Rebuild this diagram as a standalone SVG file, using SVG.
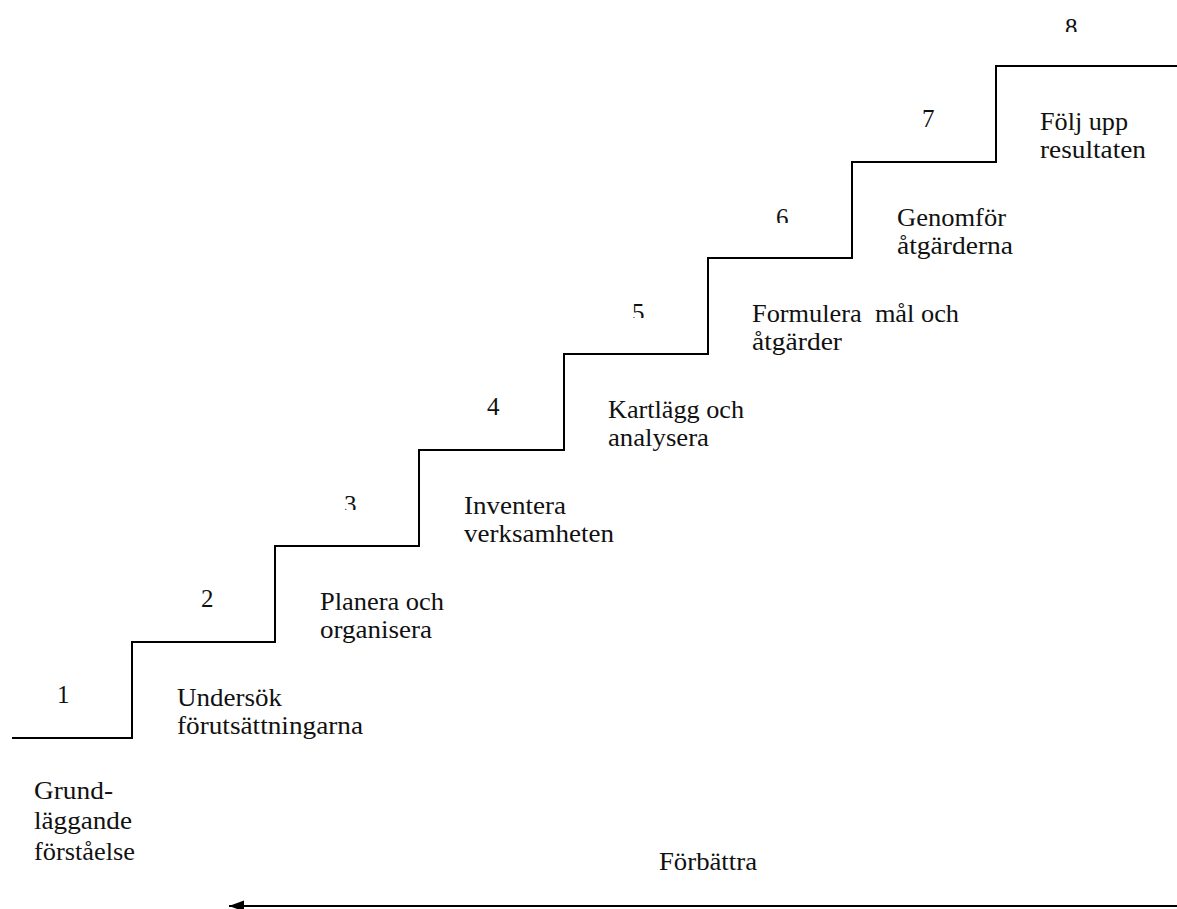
<svg xmlns="http://www.w3.org/2000/svg" width="1177" height="909" viewBox="0 0 1177 909">
<style>
text{font-family:"Liberation Serif","Times New Roman",serif;font-size:25px;fill:#111}
.stairs{fill:none;stroke:#000;stroke-width:2}
.conn{stroke:#000;stroke-width:2;fill:none}
</style>
<defs>
<marker id="ah" markerUnits="userSpaceOnUse" markerWidth="16" markerHeight="12" refX="15" refY="6" orient="auto" viewBox="0 0 16 12">
<path d="M0,0.5 L15,6 L0,11.5 Z" fill="#000"/>
</marker>
<clipPath id="c3"><rect x="330" y="480" width="40" height="30"/></clipPath>
<clipPath id="c5"><rect x="618" y="290" width="40" height="28"/></clipPath>
<clipPath id="c6"><rect x="762" y="195" width="40" height="28"/></clipPath>
<clipPath id="c8"><rect x="1050" y="0" width="40" height="32"/></clipPath>
</defs>
<g id="stairs">
<polyline class="stairs" points="12,738 132,738 132,642 275,642 275,546 419,546 419,450 564,450 564,354 708,354 708,258 852,258 852,162 996,162 996,66 1177,66"/>
</g>
<g id="step-1">
<text x="57" y="703">1</text>
<text x="177" y="706" textLength="105" lengthAdjust="spacingAndGlyphs">Undersök</text>
<text x="177" y="734" textLength="186" lengthAdjust="spacingAndGlyphs">förutsättningarna</text>
</g>
<g id="step-2">
<text x="201" y="607">2</text>
<text x="320" y="610" textLength="124" lengthAdjust="spacingAndGlyphs">Planera och</text>
<text x="320" y="638" textLength="112" lengthAdjust="spacingAndGlyphs">organisera</text>
</g>
<g id="step-3">
<text x="344" y="513" clip-path="url(#c3)">3</text>
<text x="464" y="514" textLength="102" lengthAdjust="spacingAndGlyphs">Inventera</text>
<text x="464" y="542" textLength="150" lengthAdjust="spacingAndGlyphs">verksamheten</text>
</g>
<g id="step-4">
<text x="487" y="415">4</text>
<text x="608" y="418" textLength="136" lengthAdjust="spacingAndGlyphs">Kartlägg och</text>
<text x="608" y="446" textLength="101" lengthAdjust="spacingAndGlyphs">analysera</text>
</g>
<g id="step-5">
<text x="632" y="321" clip-path="url(#c5)">5</text>
<text x="752" y="322" xml:space="preserve" textLength="207" lengthAdjust="spacingAndGlyphs">Formulera  mål och</text>
<text x="752" y="350" textLength="90" lengthAdjust="spacingAndGlyphs">åtgärder</text>
</g>
<g id="step-6">
<text x="776" y="226" clip-path="url(#c6)">6</text>
<text x="897" y="226" textLength="109" lengthAdjust="spacingAndGlyphs">Genomför</text>
<text x="897" y="254" textLength="116" lengthAdjust="spacingAndGlyphs">åtgärderna</text>
</g>
<g id="step-7">
<text x="922" y="127">7</text>
<text x="1040" y="130" textLength="88" lengthAdjust="spacingAndGlyphs">Följ upp</text>
<text x="1040" y="158" textLength="106" lengthAdjust="spacingAndGlyphs">resultaten</text>
</g>
<g id="step-8">
<text x="1065" y="36" clip-path="url(#c8)">8</text>
</g>
<g id="foundation">
<text x="34" y="799" textLength="79" lengthAdjust="spacingAndGlyphs">Grund-</text>
<text x="34" y="829" textLength="98" lengthAdjust="spacingAndGlyphs">läggande</text>
<text x="34" y="860" textLength="101" lengthAdjust="spacingAndGlyphs">förståelse</text>
</g>
<g id="improve">
<text x="659" y="870" textLength="98" lengthAdjust="spacingAndGlyphs">Förbättra</text>
</g>
<g id="connectors">
<line class="conn" x1="1177" y1="906" x2="229" y2="906" marker-end="url(#ah)"/>
</g>
</svg>
